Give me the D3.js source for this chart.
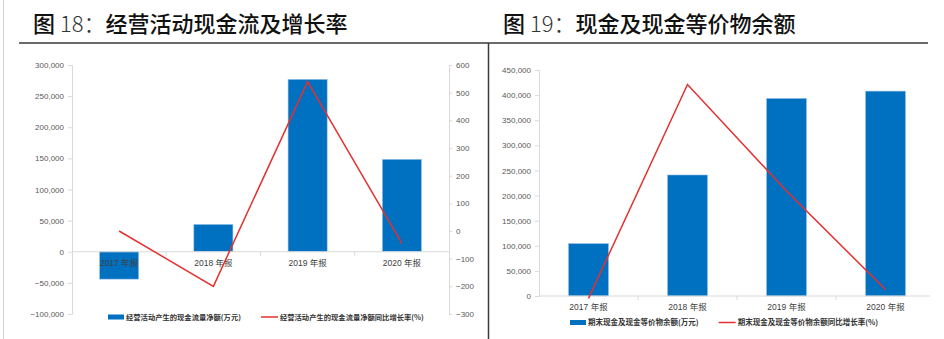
<!DOCTYPE html>
<html><head><meta charset="utf-8">
<script src="https://cdn.jsdelivr.net/npm/d3@7"></script>
<style>
html,body{margin:0;padding:0;background:#fff;}
svg text{font-family:"Liberation Sans",Arial,"Noto Sans CJK SC",sans-serif;}
</style></head>
<body><svg id="c" width="944" height="339"></svg>
<script>
// ---- data ----
const categories = ["2017 年报", "2018 年报", "2019 年报", "2020 年报"];
const opCashFlow = [-44000, 44000, 277000, 148500];       // 万元
const opCashGrowth = [0, -200, 540, -45];                  // %
const cashBalance = [104500, 241000, 393500, 408000];       // 万元
const cashGrowth = [-1.5, 131, 65, 4];                      // %
const leftTicks = [-100000, -50000, 0, 50000, 100000, 150000, 200000, 250000, 300000];
const leftTicks2 = [-300, -200, -100, 0, 100, 200, 300, 400, 500, 600];
const rightTicks = [0, 50000, 100000, 150000, 200000, 250000, 300000, 350000, 400000, 450000];
const titles = [["图 ", "18：", "经营活动现金流及增长率"], ["图 ", "19：", "现金及现金等价物余额"]];
const legendLeft = ["经营活动产生的现金流量净额(万元)", "经营活动产生的现金流量净额同比增长率(%)"];
const legendRight = ["期末现金及现金等价物余额(万元)", "期末现金及现金等价物余额同比增长率(%)"];

const BLUE = "#0070c0", RED = "#e53030", AXIS = "#d9d9d9", TXT = "#595959";
const svg = d3.select("#c");
const fmt = d3.format(",");

// frame lines
svg.append("line").attr("x1",3.5).attr("x2",3.5).attr("y1",0).attr("y2",339).attr("stroke","#cfcfcf").attr("stroke-width",1);
svg.append("line").attr("x1",19).attr("x2",928).attr("y1",43).attr("y2",43).attr("stroke","#3a3a3a").attr("stroke-width",1.5);
svg.append("line").attr("x1",488.5).attr("x2",488.5).attr("y1",43).attr("y2",339).attr("stroke","#3a3a3a").attr("stroke-width",1.5);

// titles
[[33, titles[0]], [503, titles[1]]].forEach(([x, t]) => {
  const tx = svg.append("text").attr("x", x).attr("y", 32).attr("font-size", 22)
    .style("font-family", '"Noto Sans CJK SC", sans-serif').attr("fill", "#111");
  tx.append("tspan").attr("font-weight", 500).text(t[0]);
  tx.append("tspan").attr("font-weight", 300).attr("fill","#333").text(t[1]);
  tx.append("tspan").attr("font-weight", 500).text(t[2]);
});

function legend(x, y, items, font) {
  svg.append("rect").attr("x", x).attr("y", y - 2.5).attr("width", 16).attr("height", 5).attr("fill", BLUE);
  const t1 = svg.append("text").attr("x", x + 18).attr("y", y + 2.7).attr("font-size", font).attr("font-weight", 700)
    .attr("fill", "#333").style("font-family", '"Noto Sans CJK SC", sans-serif').text(items[0]);
  const w = t1.node().getComputedTextLength();
  const lx = x + 18 + w + 20;
  svg.append("line").attr("x1", lx).attr("x2", lx + 17).attr("y1", y).attr("y2", y).attr("stroke", RED).attr("stroke-width", 1.5);
  svg.append("text").attr("x", lx + 19).attr("y", y + 2.7).attr("font-size", font).attr("font-weight", 700)
    .attr("fill", "#333").style("font-family", '"Noto Sans CJK SC", sans-serif').text(items[1]);
}

function styleAxis(g) {
  g.selectAll("path").attr("stroke", AXIS);
  g.selectAll("line").attr("stroke", AXIS);
  g.selectAll("text").attr("fill", TXT).attr("font-size", 8);
}

// ---------- Left chart ----------
{
  const x = d3.scaleBand().domain(categories).range([72, 449]).padding(0);
  const y = d3.scaleLinear().domain([-100000, 300000]).range([314, 65]);
  const y2 = d3.scaleLinear().domain([-300, 600]).range([314, 65]);
  const bw = x.bandwidth() * 0.415;

  svg.append("g").attr("transform", "translate(72,0)")
    .call(d3.axisLeft(y).tickValues(leftTicks).tickFormat(fmt).tickSize(4).tickPadding(4))
    .call(styleAxis);
  svg.append("g").attr("transform", "translate(449,0)")
    .call(d3.axisRight(y2).tickValues(leftTicks2).tickSize(3).tickPadding(4))
    .call(styleAxis);

  svg.append("g").selectAll("rect").data(opCashFlow).join("rect")
    .attr("x", (d, i) => x(categories[i]) + (x.bandwidth() - bw) / 2)
    .attr("width", bw)
    .attr("y", d => y(Math.max(0, d)))
    .attr("height", d => Math.abs(y(d) - y(0)))
    .attr("fill", BLUE).attr("stroke", "#9fc6e8").attr("stroke-width", 0.6);

  // zero axis
  svg.append("line").attr("x1", 72).attr("x2", 449).attr("y1", y(0)).attr("y2", y(0)).attr("stroke", AXIS);
  categories.slice(1).forEach(c => {
    svg.append("line").attr("x1", x(c)).attr("x2", x(c)).attr("y1", y(0)).attr("y2", y(0) + 4).attr("stroke", AXIS);
  });
  svg.append("g").selectAll("text").data(categories).join("text")
    .attr("x", d => x(d) + x.bandwidth() / 2).attr("y", y(0) + 14)
    .attr("text-anchor", "middle").attr("font-size", 8.5).attr("fill", "#404040").text(d => d);

  svg.append("path").datum(opCashGrowth)
    .attr("d", d3.line().x((d, i) => x(categories[i]) + x.bandwidth() / 2).y(d => y2(d)))
    .attr("fill", "none").attr("stroke", RED).attr("stroke-width", 1.5);

  legend(108, 317, legendLeft, 7.3);
}

// ---------- Right chart ----------
{
  const x = d3.scaleBand().domain(categories).range([539, 935]).padding(0);
  const y = d3.scaleLinear().domain([0, 450000]).range([296, 70]);
  const y2 = d3.scaleLinear().domain([0, 140]).range([296, 70]); // hidden secondary axis
  const bw = x.bandwidth() * 0.405;

  svg.append("g").attr("transform", "translate(539,0)")
    .call(d3.axisLeft(y).tickValues(rightTicks).tickFormat(fmt).tickSize(4).tickPadding(4))
    .call(styleAxis);

  svg.append("g").selectAll("rect").data(cashBalance).join("rect")
    .attr("x", (d, i) => x(categories[i]) + (x.bandwidth() - bw) / 2)
    .attr("width", bw)
    .attr("y", d => y(d))
    .attr("height", d => y(0) - y(d))
    .attr("fill", BLUE).attr("stroke", "#9fc6e8").attr("stroke-width", 0.6);

  svg.append("line").attr("x1", 539).attr("x2", 930).attr("y1", y(0)).attr("y2", y(0)).attr("stroke", AXIS);
  categories.slice(1).forEach(c => {
    svg.append("line").attr("x1", x(c)).attr("x2", x(c)).attr("y1", y(0)).attr("y2", y(0) + 4).attr("stroke", AXIS);
  });
  svg.append("g").selectAll("text").data(categories).join("text")
    .attr("x", d => x(d) + x.bandwidth() / 2).attr("y", y(0) + 14)
    .attr("text-anchor", "middle").attr("font-size", 8.5).attr("fill", "#404040").text(d => d);

  svg.append("path").datum(cashGrowth)
    .attr("d", d3.line().x((d, i) => x(categories[i]) + x.bandwidth() / 2).y(d => y2(d)))
    .attr("fill", "none").attr("stroke", RED).attr("stroke-width", 1.5);

  legend(570, 322.5, legendRight, 7.5);
}
</script></body></html>
